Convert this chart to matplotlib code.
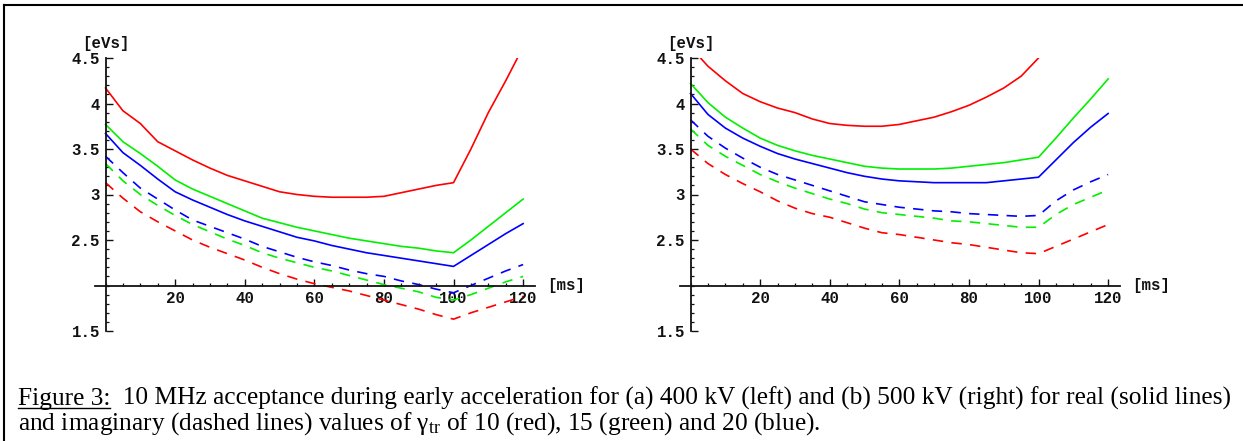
import matplotlib
matplotlib.use('Agg')
import matplotlib.pyplot as plt
from matplotlib.lines import Line2D
from matplotlib.ticker import FixedLocator, FixedFormatter, MultipleLocator

W, H = 1243, 441
plt.rcParams['font.family'] = ['Liberation Mono', 'DejaVu Sans Mono']
plt.rcParams['lines.scale_dashes'] = False
plt.rcParams['mathtext.fontset'] = 'custom'
plt.rcParams['mathtext.rm'] = 'Liberation Serif'
plt.rcParams['mathtext.it'] = 'Liberation Serif:italic'

# time in ms
t_ms = [0, 5, 10, 15, 20, 25, 30, 35, 40, 45, 50, 55, 60,
        65, 70, 75, 80, 85, 90, 95, 100, 105, 110, 115, 120]

# (a) 400 kV -- acceptance in eVs
a_real_10 = [4.17, 3.92, 3.78, 3.58, 3.48, 3.38, 3.29, 3.21, 3.15, 3.09, 3.03, 3.00, 2.98,
             2.97, 2.97, 2.97, 2.98, 3.02, 3.06, 3.10, 3.13, 3.50, 3.90, 4.25, 4.62]
a_real_15 = [3.77, 3.58, 3.45, 3.31, 3.16, 3.06, 2.98, 2.90, 2.82, 2.74, 2.69, 2.64, 2.60,
             2.56, 2.52, 2.49, 2.46, 2.43, 2.41, 2.38, 2.36, 2.50, 2.65, 2.80, 2.95]
a_real_20 = [3.67, 3.46, 3.32, 3.17, 3.03, 2.94, 2.86, 2.78, 2.71, 2.65, 2.59, 2.53, 2.49,
             2.44, 2.40, 2.36, 2.33, 2.30, 2.27, 2.24, 2.21, 2.33, 2.45, 2.57, 2.68]
a_imag_10 = [3.13, 2.96, 2.81, 2.70, 2.60, 2.50, 2.42, 2.35, 2.28, 2.20, 2.13, 2.07, 2.02,
             1.98, 1.94, 1.89, 1.84, 1.79, 1.74, 1.68, 1.63, 1.70, 1.76, 1.82, 1.88]
a_imag_15 = [3.34, 3.15, 3.00, 2.88, 2.77, 2.67, 2.59, 2.51, 2.44, 2.36, 2.30, 2.25, 2.20,
             2.16, 2.11, 2.06, 2.01, 1.97, 1.93, 1.87, 1.84, 1.90, 1.97, 2.04, 2.10]
a_imag_20 = [3.42, 3.24, 3.07, 2.95, 2.83, 2.72, 2.65, 2.58, 2.51, 2.43, 2.37, 2.31, 2.26,
             2.22, 2.17, 2.13, 2.10, 2.05, 2.01, 1.96, 1.92, 2.00, 2.08, 2.16, 2.23]

# (b) 500 kV
b_real_10 = [4.62, 4.41, 4.25, 4.11, 4.02, 3.95, 3.90, 3.83, 3.78, 3.76, 3.75, 3.75, 3.77,
             3.81, 3.85, 3.91, 3.98, 4.07, 4.17, 4.30, 4.50, None, None, None, None]
b_real_15 = [4.22, 4.01, 3.85, 3.73, 3.62, 3.54, 3.48, 3.43, 3.39, 3.35, 3.31, 3.29, 3.28,
             3.28, 3.28, 3.29, 3.31, 3.33, 3.35, 3.38, 3.41, 3.62, 3.84, 4.05, 4.27]
b_real_20 = [4.11, 3.88, 3.73, 3.62, 3.53, 3.45, 3.39, 3.34, 3.29, 3.24, 3.20, 3.17, 3.15,
             3.14, 3.13, 3.13, 3.13, 3.13, 3.15, 3.17, 3.19, 3.38, 3.57, 3.74, 3.89]
b_imag_10 = [3.50, 3.34, 3.22, 3.12, 3.03, 2.93, 2.85, 2.79, 2.75, 2.69, 2.63, 2.58, 2.56,
             2.53, 2.50, 2.47, 2.45, 2.42, 2.39, 2.36, 2.35, 2.43, 2.51, 2.59, 2.67]
b_imag_15 = [3.72, 3.54, 3.42, 3.32, 3.22, 3.14, 3.07, 3.01, 2.95, 2.90, 2.84, 2.80, 2.78,
             2.76, 2.74, 2.71, 2.70, 2.68, 2.66, 2.64, 2.64, 2.78, 2.89, 2.97, 3.05]
b_imag_20 = [3.82, 3.64, 3.51, 3.40, 3.30, 3.22, 3.16, 3.10, 3.04, 2.98, 2.92, 2.89, 2.86,
             2.84, 2.82, 2.81, 2.79, 2.78, 2.77, 2.76, 2.77, 2.93, 3.05, 3.14, 3.22]

y_ticks = [1.5, 2.5, 3, 3.5, 4, 4.5]
y_tick_labels = ['1.5', '2.5', '3', '3.5', '4', '4.5']
x_ticks = [20, 40, 60, 80, 100, 120]

RED, GREEN, BLUE = '#ff0000', '#00f000', '#0000ff'

fig = plt.figure(figsize=(W / 100, H / 100), dpi=100)


def px_axes(x0, x1, ytop, ybot):
    return fig.add_axes([x0 / W, 1 - ybot / H, (x1 - x0) / W, (ybot - ytop) / H])


def nan(v):
    return [float('nan') if a is None else a for a in v]


def panel(ax, real, imag):
    for vals, c in zip(imag, [RED, GREEN, BLUE]):
        ax.plot(t_ms, nan(vals), color=c, lw=1.2, ls=(0, (7.5, 6)))
    for vals, c in zip(real, [RED, GREEN, BLUE]):
        ax.plot(t_ms, nan(vals), color=c, lw=1.2)
    ax.set_xlim(-3, 123.5)
    ax.set_ylim(1.5, 4.5)
    ax.patch.set_visible(False)
    ax.spines['left'].set_position(('data', 0))
    ax.spines['bottom'].set_position(('data', 2))
    for s in ['top', 'right']:
        ax.spines[s].set_visible(False)
    for s in ['left', 'bottom']:
        ax.spines[s].set_linewidth(1.3)
        ax.spines[s].set_color('#111111')
    ax.xaxis.set_major_locator(FixedLocator(x_ticks))
    ax.xaxis.set_minor_locator(MultipleLocator(5))
    ax.yaxis.set_major_locator(FixedLocator(y_ticks))
    ax.yaxis.set_major_formatter(FixedFormatter(y_tick_labels))
    ax.yaxis.set_minor_locator(MultipleLocator(0.1))
    ax.tick_params(which='major', direction='in', length=5, width=1.0, labelsize=11.3, colors='#111111')
    ax.tick_params(which='minor', direction='in', length=2.5, width=0.9, colors='#111111')
    ax.tick_params(axis='x', pad=4)
    ax.tick_params(axis='y', pad=4)
    plt.setp(ax.get_xticklabels() + ax.get_yticklabels(), fontweight='bold')
    ax.text(0, 4.66, '[eVs]', ha='center', va='center', fontsize=11.3, fontweight='bold', color='#111111')
    ax.text(127, 2, '[ms]', ha='left', va='center', fontsize=11.3, fontweight='bold', color='#111111')


ax1 = px_axes(95.1, 535.3, 58, 331)
panel(ax1, [a_real_10, a_real_15, a_real_20], [a_imag_10, a_imag_15, a_imag_20])
ax2 = px_axes(680.1, 1120.3, 58, 331)
panel(ax2, [b_real_10, b_real_15, b_real_20], [b_imag_10, b_imag_15, b_imag_20])

# frame
fig.add_artist(Line2D([4 / W, 1], [1 - 5 / H, 1 - 5 / H], color='black', lw=1.5))
fig.add_artist(Line2D([4 / W, 4 / W], [0, 1 - 5 / H], color='black', lw=1.5))

# caption
cap_head = 'Figure 3:'
cap_line1 = '  10 MHz acceptance during early acceleration for (a) 400 kV (left) and (b) 500 kV (right) for real (solid lines)'
cap_line2 = r'and imaginary (dashed lines) values of γ$_{\rm tr}$ of 10 (red), 15 (green) and 20 (blue).'

r = fig.canvas.get_renderer()
probe = fig.text(0, 0, cap_head + cap_line1, family='Liberation Serif', size=10)
fs = 10 * 1212 / probe.get_window_extent(r).width
probe.remove()

x_left = 18
kw = dict(family='Liberation Serif', size=fs, va='baseline')
t_head = fig.text(x_left / W, 1 - 405 / H, cap_head, **kw)
bb = t_head.get_window_extent(r)
fig.text(bb.x1 / W, 1 - 405 / H, cap_line1, **kw)
fig.add_artist(Line2D([bb.x0 / W, bb.x1 / W], [1 - 408 / H, 1 - 408 / H], color='black', lw=1.0))
fig.text(x_left / W, 1 - 430 / H, cap_line2, **kw)

fig.savefig('out.png', dpi=100)
